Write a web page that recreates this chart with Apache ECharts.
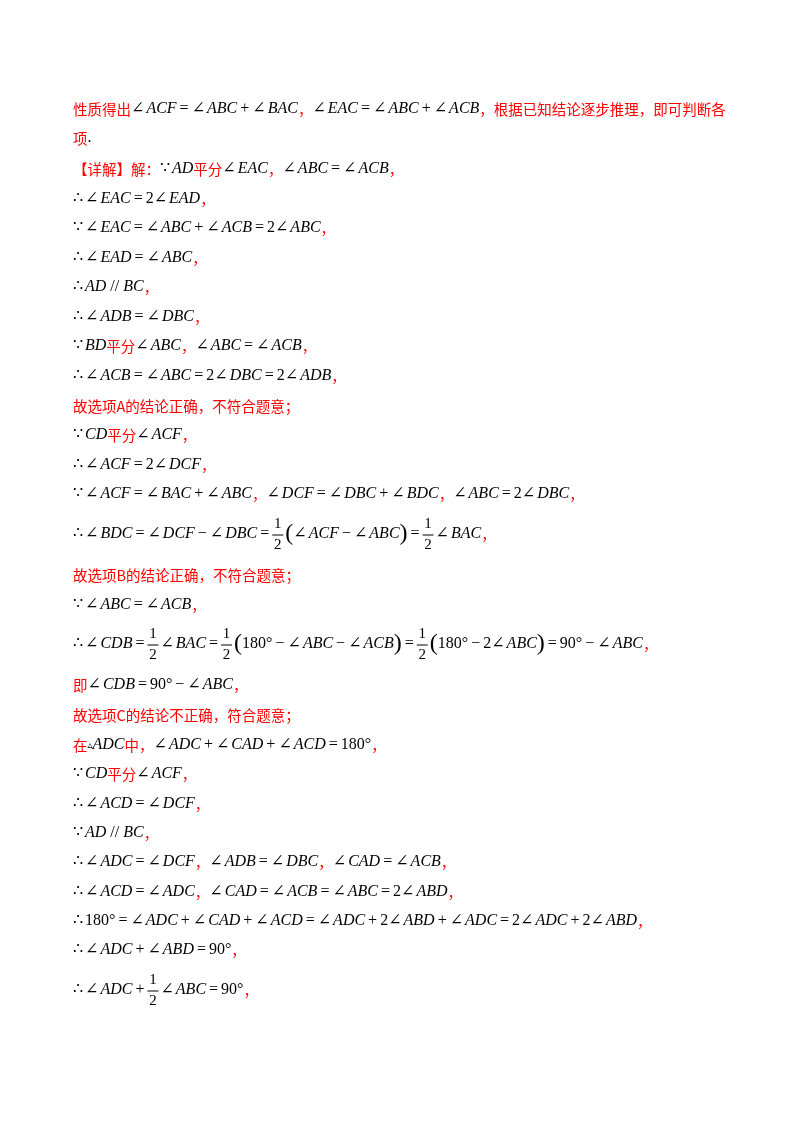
<!DOCTYPE html>
<html lang="zh">
<head>
<meta charset="UTF-8">
<script src="https://cdn.jsdelivr.net/npm/echarts@6/dist/echarts.min.js"></script>
<style>
    body { margin: 0; background: #fff; }
    #main { width: 800px; height: 1132px; }
</style>
</head>
<body>
<div id="main"></div>
<script>
    // 每行文字的纵坐标
    const lineY = [107, 136, 167, 197, 226, 256, 285, 315, 344, 374, 404, 433, 463, 492,
        532, 573, 603, 642, 683, 713, 743, 772, 802, 831, 860, 890, 919, 948, 988];
    // 每行文字，½ 表示分数 1/2
    const lineText = [
        '性质得出∠ACF=∠ABC+∠BAC，∠EAC=∠ABC+∠ACB，根据已知结论逐步推理，即可判断各',
        '项.',
        '【详解】解：∵AD平分∠EAC，∠ABC=∠ACB，',
        '∴∠EAC=2∠EAD，',
        '∵∠EAC=∠ABC+∠ACB=2∠ABC，',
        '∴∠EAD=∠ABC，',
        '∴AD // BC，',
        '∴∠ADB=∠DBC，',
        '∵BD平分∠ABC，∠ABC=∠ACB，',
        '∴∠ACB=∠ABC=2∠DBC=2∠ADB，',
        '故选项A的结论正确，不符合题意；',
        '∵CD平分∠ACF，',
        '∴∠ACF=2∠DCF，',
        '∵∠ACF=∠BAC+∠ABC，∠DCF=∠DBC+∠BDC，∠ABC=2∠DBC，',
        '∴∠BDC=∠DCF−∠DBC=½(∠ACF−∠ABC)=½∠BAC，',
        '故选项B的结论正确，不符合题意；',
        '∵∠ABC=∠ACB，',
        '∴∠CDB=½∠BAC=½(180°−∠ABC−∠ACB)=½(180°−2∠ABC)=90°−∠ABC，',
        '即∠CDB=90°−∠ABC，',
        '故选项C的结论不正确，符合题意；',
        '在▵ADC中，∠ADC+∠CAD+∠ACD=180°，',
        '∵CD平分∠ACF，',
        '∴∠ACD=∠DCF，',
        '∵AD // BC，',
        '∴∠ADC=∠DCF，∠ADB=∠DBC，∠CAD=∠ACB，',
        '∴∠ACD=∠ADC，∠CAD=∠ACB=∠ABC=2∠ABD，',
        '∴180°=∠ADC+∠CAD+∠ACD=∠ADC+2∠ABD+∠ADC=2∠ADC+2∠ABD，',
        '∴∠ADC+∠ABD=90°，',
        '∴∠ADC+½∠ABC=90°，'
    ];

    const RED = '#ff0000';
    const CJK = '"Noto Sans CJK SC", sans-serif';
    const SERIF = '"Liberation Serif", "DejaVu Serif", serif';
    const ctx = document.createElement('canvas').getContext('2d');

    function measure(txt, font) {
        ctx.font = font;
        return ctx.measureText(txt).width;
    }

    let elements = [];
    lineText.forEach((text, i) => {
        let y = lineY[i] + 2;
        let x = 73;
        let allRed = text.indexOf('故选项') === 0;
        let hasFrac = text.indexOf('½') >= 0;
        for (let ch of text) {
            if (ch === '½') {
                let w = 11;
                elements.push({type: 'text', x: x + w / 2, y: y - 10,
                    style: {text: '1', font: '15px ' + SERIF, fill: '#000', align: 'center', verticalAlign: 'middle'}});
                elements.push({type: 'text', x: x + w / 2, y: y + 11,
                    style: {text: '2', font: '15px ' + SERIF, fill: '#000', align: 'center', verticalAlign: 'middle'}});
                elements.push({type: 'line', shape: {x1: x, y1: y + 1, x2: x + w, y2: y + 1},
                    style: {stroke: '#000', lineWidth: 1}});
                x += w + 2;
                continue;
            }
            let isCjk = /[\u3000-\u9fff\uff00-\uffef【】]/.test(ch);
            let font, fill;
            if (isCjk || allRed) {
                font = '14.5px ' + CJK;
                fill = RED;
            } else if (/[A-Za-z]/.test(ch)) {
                font = 'italic 16px ' + SERIF;
                fill = '#000';
            } else if (hasFrac && (ch === '(' || ch === ')')) {
                font = '24px ' + SERIF;
                fill = '#000';
            } else {
                font = '16px ' + SERIF;
                fill = '#000';
            }
            if (ch === '▵') font = '10px ' + SERIF;
            let pad = ('=+−'.indexOf(ch) >= 0) ? 3 : 0;
            x += pad;
            elements.push({type: 'text', x: x, y: y,
                style: {text: ch, font: font, fill: fill, verticalAlign: 'middle'}});
            x += measure(ch, font) + pad;
            if (ch === '∠' || ch === '∴' || ch === '∵') x += 2;
        }
    });

    let myChart = echarts.init(document.getElementById('main'), null, {renderer: 'canvas'});
    myChart.setOption({
        backgroundColor: '#fff',
        graphic: {elements: elements}
    });
</script>
</body>
</html>
